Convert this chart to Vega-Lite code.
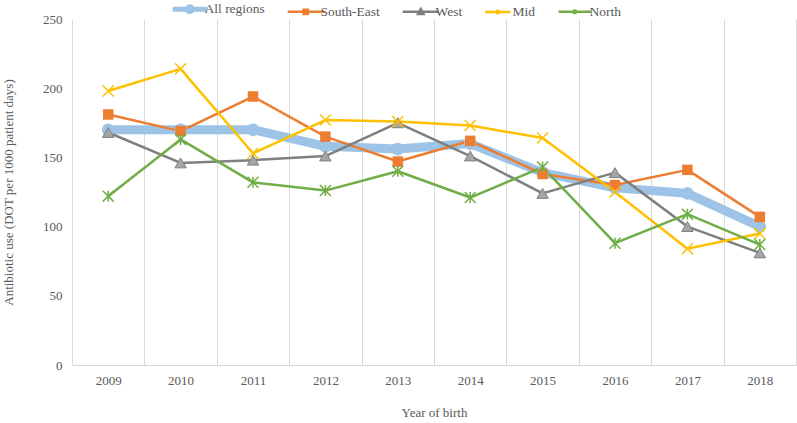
{
  "$schema": "https://vega.github.io/schema/vega-lite/v6.json",
  "width": 724,
  "height": 346,
  "autosize": "none",
  "padding": {"left": 72, "top": 19, "right": 1, "bottom": 58},
  "background": "white",
  "config": {"view": {"stroke": null}, "font": "Liberation Serif"},
  "data": {
    "values": [
      {"year": 2009, "series": "All regions", "value": 170},
      {"year": 2010, "series": "All regions", "value": 170},
      {"year": 2011, "series": "All regions", "value": 170},
      {"year": 2012, "series": "All regions", "value": 158},
      {"year": 2013, "series": "All regions", "value": 156},
      {"year": 2014, "series": "All regions", "value": 160},
      {"year": 2015, "series": "All regions", "value": 139},
      {"year": 2016, "series": "All regions", "value": 128},
      {"year": 2017, "series": "All regions", "value": 124},
      {"year": 2018, "series": "All regions", "value": 100},
      {"year": 2009, "series": "South-East", "value": 181},
      {"year": 2010, "series": "South-East", "value": 169},
      {"year": 2011, "series": "South-East", "value": 194},
      {"year": 2012, "series": "South-East", "value": 165},
      {"year": 2013, "series": "South-East", "value": 147},
      {"year": 2014, "series": "South-East", "value": 162},
      {"year": 2015, "series": "South-East", "value": 138},
      {"year": 2016, "series": "South-East", "value": 130},
      {"year": 2017, "series": "South-East", "value": 141},
      {"year": 2018, "series": "South-East", "value": 107},
      {"year": 2009, "series": "West", "value": 168},
      {"year": 2010, "series": "West", "value": 146},
      {"year": 2011, "series": "West", "value": 148},
      {"year": 2012, "series": "West", "value": 151},
      {"year": 2013, "series": "West", "value": 175},
      {"year": 2014, "series": "West", "value": 151},
      {"year": 2015, "series": "West", "value": 124},
      {"year": 2016, "series": "West", "value": 139},
      {"year": 2017, "series": "West", "value": 100},
      {"year": 2018, "series": "West", "value": 81},
      {"year": 2009, "series": "Mid", "value": 198},
      {"year": 2010, "series": "Mid", "value": 214},
      {"year": 2011, "series": "Mid", "value": 153},
      {"year": 2012, "series": "Mid", "value": 177},
      {"year": 2013, "series": "Mid", "value": 176},
      {"year": 2014, "series": "Mid", "value": 173},
      {"year": 2015, "series": "Mid", "value": 164},
      {"year": 2016, "series": "Mid", "value": 125},
      {"year": 2017, "series": "Mid", "value": 84},
      {"year": 2018, "series": "Mid", "value": 95},
      {"year": 2009, "series": "North", "value": 122},
      {"year": 2010, "series": "North", "value": 163},
      {"year": 2011, "series": "North", "value": 132},
      {"year": 2012, "series": "North", "value": 126},
      {"year": 2013, "series": "North", "value": 140},
      {"year": 2014, "series": "North", "value": 121},
      {"year": 2015, "series": "North", "value": 143},
      {"year": 2016, "series": "North", "value": 88},
      {"year": 2017, "series": "North", "value": 109},
      {"year": 2018, "series": "North", "value": 87}
    ]
  },
  "encoding": {
    "x": {
      "field": "year", "type": "ordinal",
      "scale": {"paddingInner": 0, "paddingOuter": 0},
      "axis": {"grid": true, "gridColor": "#d9d9d9", "gridWidth": 1, "tickBand": "extent", "labelAngle": 0, "labelFontSize": 13, "labelColor": "#595959", "labelPadding": 9, "ticks": false, "domain": true, "domainColor": "#d9d9d9", "title": "Year of birth", "titleFontSize": 13, "titleFontWeight": "normal", "titleColor": "#595959", "titlePadding": 19}
    },
    "y": {
      "field": "value", "type": "quantitative",
      "scale": {"domain": [0, 250], "nice": false},
      "axis": {"values": [0, 50, 100, 150, 200, 250], "grid": false, "ticks": false, "domain": false, "labelFontSize": 13, "labelColor": "#595959", "labelPadding": 10, "title": "Antibiotic use (DOT per 1000 patient days)", "titleFontSize": 13, "titleFontWeight": "normal", "titleColor": "#595959", "titlePadding": 27}
    }
  },
  "layer": [
    {
      "mark": {"type": "line", "strokeJoin": "round", "strokeCap": "round"},
      "encoding": {
        "color": {
          "field": "series", "type": "nominal",
          "scale": {
            "domain": ["All regions", "South-East", "West", "Mid", "North"],
            "range": ["#9dc3e6", "#ed7d31", "#7f7f7f", "#ffc000", "#70ad47"]
          },
          "legend": {
            "title": null,
            "orient": "none",
            "legendX": 111,
            "legendY": -17,
            "direction": "horizontal",
            "labelFontSize": 13.5,
            "labelColor": "#595959",
            "labelFont": "Liberation Serif",
            "symbolSize": 1296,
            "labelOffset": 8,
            "columnPadding": 17,
            "encode": {
              "symbols": {
                "update": {
                  "shape": {"signal": "datum.value === 'All regions' ? 'M-0.95,0H0.95M-0.13,0A0.13,0.13 0 1,0 0.13,0A0.13,0.13 0 1,0 -0.13,0Z' : datum.value === 'South-East' ? 'M-1,0H1M-0.12,-0.12H0.12V0.12H-0.12Z' : datum.value === 'West' ? 'M-1,0H1M0,-0.15L0.15,0.12H-0.15Z' : datum.value === 'Mid' ? 'M-0.7,0H0.7M-0.1,-0.1L0.1,0.1M-0.1,0.1L0.1,-0.1' : 'M-0.9,0H0.9M-0.1,-0.1L0.1,0.1M-0.1,0.1L0.1,-0.1M0,-0.12V0.12'"},
                  "fill": {"signal": "datum.value === 'West' ? '#a5a5a5' : scale('color', datum.value)"},
                  "stroke": {"signal": "scale('color', datum.value)"},
                  "strokeWidth": {"signal": "datum.value === 'All regions' ? 5 : 2.5"},
                  "opacity": {"value": 1}
                }
              }
            }
          }
        },
        "strokeWidth": {
          "condition": {"test": "datum.series === 'All regions'", "value": 9},
          "value": 2.5
        }
      }
    },
    {
      "transform": [{"filter": "datum.series === 'All regions'"}],
      "mark": {"type": "point", "shape": "circle", "filled": true, "color": "#9dc3e6", "opacity": 1, "size": 160}
    },
    {
      "transform": [{"filter": "datum.series === 'South-East'"}],
      "mark": {"type": "point", "shape": "square", "filled": true, "color": "#ed7d31", "opacity": 1, "size": 110}
    },
    {
      "transform": [{"filter": "datum.series === 'West'"}],
      "mark": {"type": "point", "shape": "triangle-up", "fill": "#a5a5a5", "stroke": "#7f7f7f", "strokeWidth": 1, "fillOpacity": 1, "opacity": 1, "size": 130}
    },
    {
      "transform": [{"filter": "datum.series === 'Mid'"}],
      "mark": {"type": "point", "shape": "M-1,-1L1,1M-1,1L1,-1", "filled": false, "color": "#ffc000", "strokeWidth": 1.5, "opacity": 1, "size": 120}
    },
    {
      "transform": [{"filter": "datum.series === 'North'"}],
      "mark": {"type": "point", "shape": "M-1,-1L1,1M-1,1L1,-1M0,-1L0,1", "filled": false, "color": "#70ad47", "strokeWidth": 1.5, "opacity": 1, "size": 120}
    }
  ]
}
